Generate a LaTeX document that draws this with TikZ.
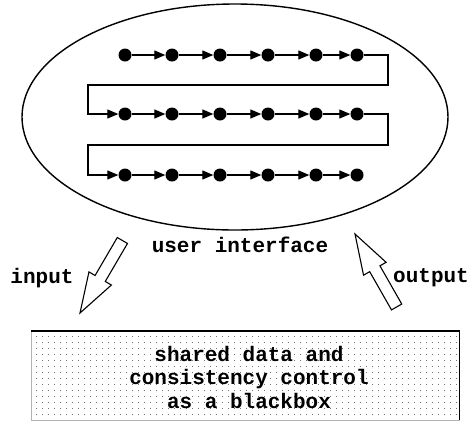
\documentclass[tikz,border=0pt]{standalone}
\usepackage{fontspec}
\setmonofont{Liberation Mono}
\usetikzlibrary{arrows.meta, shapes.geometric, patterns.meta}

% sparse grey dot fill for the data store
\tikzdeclarepattern{
  name=sparsedots, type=uncolored,
  bottom left={(-1pt,-1pt)}, top right={(2pt,2pt)},
  tile size={(6pt,6pt)},
  code={\fill (0pt,0pt) rectangle (1.3pt,1.3pt);}
}

\begin{document}
\begin{tikzpicture}[x=1pt, y=1pt,
  blob/.style={circle, fill, inner sep=0pt, minimum size=13pt},
  flow/.style={line width=1.2pt, -{Triangle[length=11pt, width=9pt]}},
  lbl/.style={font=\ttfamily\bfseries\fontsize{21}{23.5}\selectfont, inner sep=0pt},
  fatarrow/.pic={
    \draw[line width=1.1pt, fill=white] (0,0) -- (-40,13) -- (-40,5.9) -- (-84,5.9)
      -- (-84,-5.9) -- (-40,-5.9) -- (-40,-13) -- cycle;
  }]
\useasboundingbox (0,0) rectangle (470,-421);

% user interface
\node[ellipse, draw, line width=1.4pt, minimum width=426pt, minimum height=226pt, inner sep=0pt] (ui) at (235,-117) {};

% three rows of states
\foreach \r/\y in {a/55, b/114, c/175}
  \foreach \x [count=\i] in {125,172,220,268,316,357}
    \node[blob] (\r\i) at (\x,-\y) {};

\foreach \r in {a,b,c}
  \foreach \i/\j in {1/2,2/3,3/4,4/5,5/6}
    \draw[flow] (\r\i) -- (\r\j);

% turns from the end of a row back to the start of the next
\coordinate (turnA) at (388,-85);
\coordinate (backA) at (88,-85);
\coordinate (turnB) at (388,-145);
\coordinate (backB) at (88,-145);
\draw[flow] (a6) -| (turnA) -- (backA) |- (b1);
\draw[flow] (b6) -| (turnB) -- (backB) |- (c1);

\node[lbl, anchor=base] (uitext) at (240,-252) {user interface};
\node[lbl, anchor=base] (intext) at (42,-283) {input};
\node[lbl, anchor=base] (outtext) at (431,-282) {output};

% the black box
\node[draw=black!30, line width=0.5pt, pattern={sparsedots}, pattern color=black!55,
  minimum width=428pt, minimum height=89pt] (store) at (245,-375.5) {};
\draw[line width=1.5pt] (store.north west) -- (store.north east) -- (store.south east);
\node[lbl, align=center, anchor=base] (storetext) at (249,-408)
  {shared data and\\consistency control\\as a blackbox};

% input and output
\coordinate (intip) at (80,-313);
\coordinate (outtip) at (355,-234);
\pic[rotate=239.7] at (intip) {fatarrow};
\pic[rotate=119.7] at (outtip) {fatarrow};
\end{tikzpicture}
\end{document}
